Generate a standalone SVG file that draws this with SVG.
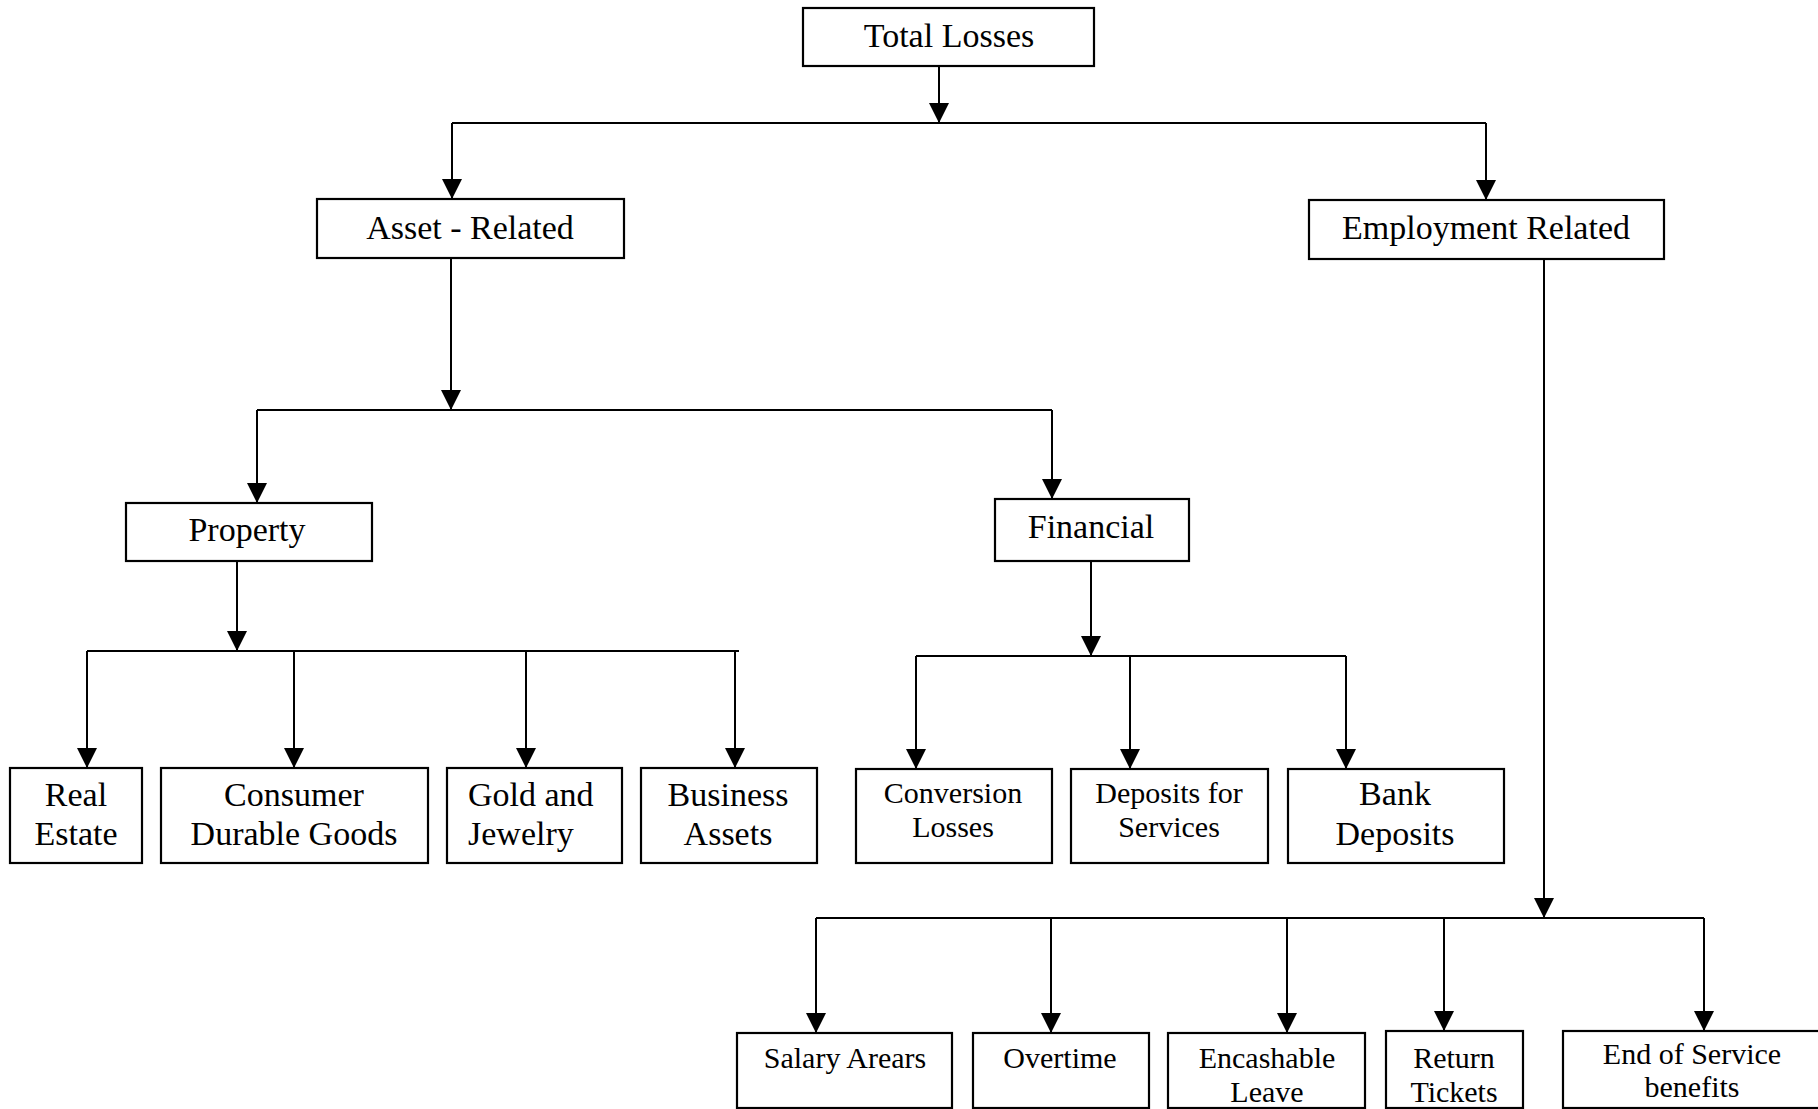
<svg xmlns="http://www.w3.org/2000/svg" width="1818" height="1109" viewBox="0 0 1818 1109">
<style>
.box{fill:#fff;stroke:#000;stroke-width:2.2}
.c{fill:none;stroke:#000;stroke-width:2}
text{font-family:"Liberation Serif","Times New Roman",serif;fill:#000;text-anchor:middle}
.b{font-size:34px}
.s{font-size:30px}
</style>
<defs>
<marker id="ah" viewBox="0 0 20 20" refX="20" refY="10" markerWidth="20" markerHeight="20" markerUnits="userSpaceOnUse" orient="auto">
<path d="M0,0 L20,10 L0,20 z" fill="#000"/>
</marker>
</defs>
<rect width="1818" height="1109" fill="#fff"/>
<g id="connectors">
<path class="c" d="M939,66 V123" marker-end="url(#ah)"/>
<path class="c" d="M452,123 H1486"/>
<path class="c" d="M452,123 V199" marker-end="url(#ah)"/>
<path class="c" d="M1486,123 V200" marker-end="url(#ah)"/>
<path class="c" d="M451,258 V410" marker-end="url(#ah)"/>
<path class="c" d="M257,410 H1052"/>
<path class="c" d="M257,410 V503" marker-end="url(#ah)"/>
<path class="c" d="M1052,410 V499" marker-end="url(#ah)"/>
<path class="c" d="M237,561 V651" marker-end="url(#ah)"/>
<path class="c" d="M87,651 H739"/>
<path class="c" d="M87,651 V768" marker-end="url(#ah)"/>
<path class="c" d="M294,651 V768" marker-end="url(#ah)"/>
<path class="c" d="M526,651 V768" marker-end="url(#ah)"/>
<path class="c" d="M735,651 V768" marker-end="url(#ah)"/>
<path class="c" d="M1091,561 V656" marker-end="url(#ah)"/>
<path class="c" d="M916,656 H1346"/>
<path class="c" d="M916,656 V769" marker-end="url(#ah)"/>
<path class="c" d="M1130,656 V769" marker-end="url(#ah)"/>
<path class="c" d="M1346,656 V769" marker-end="url(#ah)"/>
<path class="c" d="M1544,259 V918" marker-end="url(#ah)"/>
<path class="c" d="M816,918 H1704"/>
<path class="c" d="M816,918 V1033" marker-end="url(#ah)"/>
<path class="c" d="M1051,918 V1033" marker-end="url(#ah)"/>
<path class="c" d="M1287,918 V1033" marker-end="url(#ah)"/>
<path class="c" d="M1444,918 V1031" marker-end="url(#ah)"/>
<path class="c" d="M1704,918 V1031" marker-end="url(#ah)"/>
</g>
<g id="total-losses"><rect class="box" x="803" y="8" width="291" height="58"/><text class="b" x="949" y="47">Total Losses</text></g>
<g id="asset-related"><rect class="box" x="317" y="199" width="307" height="59"/><text class="b" x="470" y="239">Asset - Related</text></g>
<g id="employment-related"><rect class="box" x="1309" y="200" width="355" height="59"/><text class="b" x="1486" y="239">Employment Related</text></g>
<g id="property"><rect class="box" x="126" y="503" width="246" height="58"/><text class="b" x="247" y="541">Property</text></g>
<g id="financial"><rect class="box" x="995" y="499" width="194" height="62"/><text class="b" x="1091" y="538">Financial</text></g>
<g id="real-estate"><rect class="box" x="10" y="768" width="132" height="95"/><text class="b" x="76" y="806">Real</text><text class="b" x="76" y="845">Estate</text></g>
<g id="consumer-durable-goods"><rect class="box" x="161" y="768" width="267" height="95"/><text class="b" x="294" y="806">Consumer</text><text class="b" x="294" y="845">Durable Goods</text></g>
<g id="gold-jewelry"><rect class="box" x="447" y="768" width="175" height="95"/><text class="b" x="468" y="806" style="text-anchor:start">Gold and</text><text class="b" x="468" y="845" style="text-anchor:start">Jewelry</text></g>
<g id="business-assets"><rect class="box" x="641" y="768" width="176" height="95"/><text class="b" x="728" y="806">Business</text><text class="b" x="728" y="845">Assets</text></g>
<g id="conversion-losses"><rect class="box" x="856" y="769" width="196" height="94"/><text class="s" x="953" y="803">Conversion</text><text class="s" x="953" y="837">Losses</text></g>
<g id="deposits-services"><rect class="box" x="1071" y="769" width="197" height="94"/><text class="s" x="1169" y="803">Deposits for</text><text class="s" x="1169" y="837">Services</text></g>
<g id="bank-deposits"><rect class="box" x="1288" y="769" width="216" height="94"/><text class="b" x="1395" y="805">Bank</text><text class="b" x="1395" y="845">Deposits</text></g>
<g id="salary-arears"><rect class="box" x="737" y="1033" width="215" height="75"/><text class="s" x="845" y="1068">Salary Arears</text></g>
<g id="overtime"><rect class="box" x="973" y="1033" width="176" height="75"/><text class="s" x="1060" y="1068">Overtime</text></g>
<g id="encashable-leave"><rect class="box" x="1168" y="1033" width="197" height="75"/><text class="s" x="1267" y="1068">Encashable</text><text class="s" x="1267" y="1102">Leave</text></g>
<g id="return-tickets"><rect class="box" x="1386" y="1031" width="137" height="77"/><text class="s" x="1454" y="1068">Return</text><text class="s" x="1454" y="1102">Tickets</text></g>
<g id="end-of-service"><rect class="box" x="1563" y="1031" width="262" height="77"/><text class="s" x="1692" y="1064">End of Service</text><text class="s" x="1692" y="1097">benefits</text></g>
</svg>
